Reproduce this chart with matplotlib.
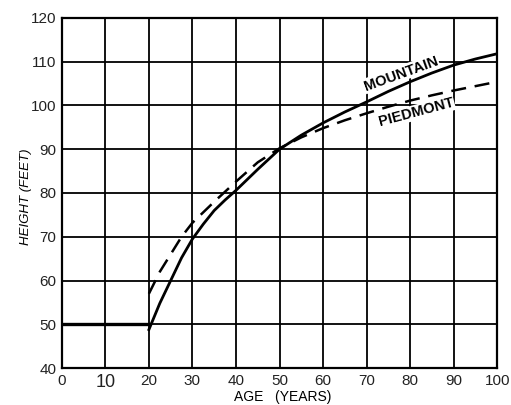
import matplotlib.pyplot as plt

# values
age_mountain = [20, 22.5, 25, 27.5, 30, 32.5, 35, 37.5, 40, 45, 50, 55, 60, 65, 70, 75, 80, 85, 90, 95, 100]
height_mountain = [48.8, 54.8, 60, 65.2, 69.5, 72.9, 76.0, 78.4, 80.6, 85.4, 90, 93.2, 96,
                   98.5, 100.8, 103.2, 105.4, 107.4, 109.2, 110.6, 111.8]

age_piedmont = [20, 21.5, 22.5, 25, 27.5, 30, 35, 40, 45, 50, 55, 60, 65, 70, 75, 80, 85, 90, 95, 100]
height_piedmont = [57, 60, 62, 66, 70, 73.2, 78, 82.6, 87, 90.2, 92.7, 94.8, 96.6, 98.2,
                   99.7, 101.1, 102.3, 103.4, 104.4, 105.4]

x_ticks = [0, 10, 20, 30, 40, 50, 60, 70, 80, 90, 100]
y_ticks = [40, 50, 60, 70, 80, 90, 100, 110, 120]

plt.rcParams['font.family'] = ['Liberation Sans', 'DejaVu Sans']

fig = plt.figure(figsize=(5.11, 4.05), dpi=100)
ax = fig.add_axes([0.121, 0.091, 0.852, 0.865])

ax.set_xlim(0, 100)
ax.set_ylim(40, 120)
ax.set_xticks(x_ticks)
ax.set_yticks(y_ticks)
ax.grid(True, color='black', linewidth=1.3)
ax.tick_params(length=0, pad=4, labelsize=11, colors='#222222')
ax.get_xticklabels()[1].set_fontsize(13)
ax.set_axisbelow(True)
for s in ax.spines.values():
    s.set_linewidth(1.6)

# heavier line along 50 ft before age 20
ax.plot([0, 20], [50, 50], color='black', linewidth=2.4)

ax.plot(age_mountain, height_mountain, color='black', linewidth=2.0)
ax.plot(age_piedmont, height_piedmont, color='black', linewidth=1.8,
        dashes=(6, 3.5))

ax.text(77.9, 107.3, 'MOUNTAIN', rotation=20, ha='center', va='center',
        fontsize=10.5, fontweight='bold',
        bbox=dict(facecolor='white', edgecolor='none', pad=0.5))
ax.text(81.4, 98.4, 'PIEDMONT', rotation=15, ha='center', va='center',
        fontsize=10.5, fontweight='bold',
        bbox=dict(facecolor='white', edgecolor='none', pad=0.5))

ax.set_xlabel('AGE   (YEARS)', fontsize=10, va='center')
ax.xaxis.set_label_coords(0.508, -0.082)
ax.set_ylabel('HEIGHT (FEET)', fontsize=9.5, fontstyle='italic', va='center')
ax.yaxis.set_label_coords(-0.082, 0.49)

fig.savefig('out.png', dpi=100)
